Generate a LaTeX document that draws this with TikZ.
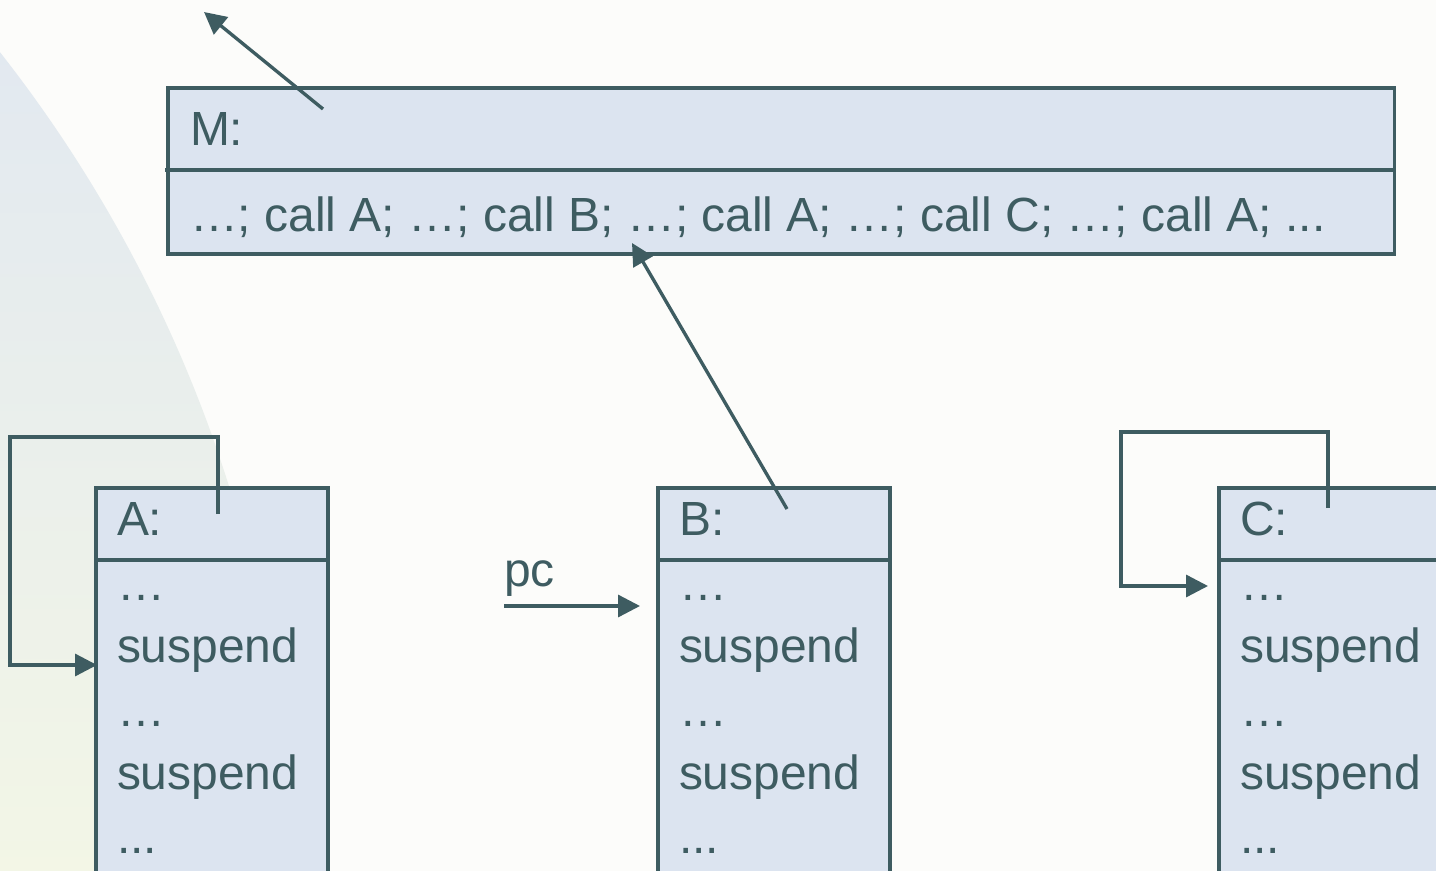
\documentclass[tikz,border=0pt]{standalone}
\usepackage{fontspec}
\setmainfont{Liberation Sans}
\usetikzlibrary{arrows.meta}
\definecolor{ink}{HTML}{3E5C61}
\definecolor{boxfill}{HTML}{DCE4F0}
\definecolor{bg}{HTML}{FCFCFA}
\definecolor{circtop}{HTML}{E1E8F1}
\definecolor{circbot}{HTML}{F3F6E6}
\begin{document}
\begin{tikzpicture}[x=0.02cm,y=-0.02cm,
  box/.style={draw=ink, fill=boxfill, line width=1.9pt, inner sep=0pt, outer sep=0pt, anchor=north west},
  txt/.style={anchor=base west, inner sep=0pt, outer sep=0pt, text=ink, font=\fontsize{27.3}{32}\selectfont},
  conn/.style={draw=ink, line width=1.9pt},
  arr/.style={conn, -{Triangle[length=0.44cm,width=0.44cm]}},
]
\useasboundingbox (0,0) rectangle (1436,871);
\clip (0,0) rectangle (1436,871);
\fill[bg] (0,0) rectangle (1436,871);
% background disc
\begin{scope}
  \clip (-1077,897) circle [radius=27.38cm];
  \shade[top color=circtop, bottom color=circbot] (-10,-10) rectangle (500,881);
\end{scope}

% M box
\node[box, minimum width=24.54cm, minimum height=3.32cm] (M) at (168,88) {};
\draw[conn] (165,170) -- (1395,170);
\node[txt] (Mlabel) at (190,146) {M:};
\node[txt] (Mcode) at (190,232) {…; call A; …; call B; …; call A; …; call C; …; call A; ...};

% A, B, C boxes
\foreach \n/\x in {A/96, B/658, C/1219} {
  \node[box, minimum width=4.64cm, minimum height=8.4cm] (\n) at (\x,488) {};
  \draw[conn] (\x+2,560) -- (\x+232,560);
  \node[txt] (\n0) at (\x+21,535) {\n:};
  \node[txt] (\n1) at (\x+21,600) {…};
  \node[txt] (\n2) at (\x+21,662) {suspend};
  \node[txt] (\n3) at (\x+21,726) {…};
  \node[txt] (\n4) at (\x+21,789) {suspend};
  \node[txt] (\n5) at (\x+21,853) {...};
}

% connectors
\coordinate (mtail) at (323,109);
\coordinate (mtip) at (204,12);
\draw[arr] (mtail) -- (mtip);

\coordinate (btail) at (787,509);
\coordinate (btip) at (632,243);
\draw[arr] (btail) -- (btip);

\coordinate (atail) at (218,514);
\coordinate (ain) at (97,665);
\draw[arr] (atail) -- (218,437) -- (10,437) -- (10,665) -- (ain);

\coordinate (ctail) at (1328,508);
\coordinate (cin) at (1208,586);
\draw[arr] (ctail) -- (1328,432) -- (1121,432) -- (1121,586) -- (cin);

\node[txt] (pc) at (504,586) {pc};
\coordinate (pctail) at (504,606);
\coordinate (pctip) at (640,606);
\draw[arr] (pctail) -- (pctip);
\end{tikzpicture}
\end{document}
